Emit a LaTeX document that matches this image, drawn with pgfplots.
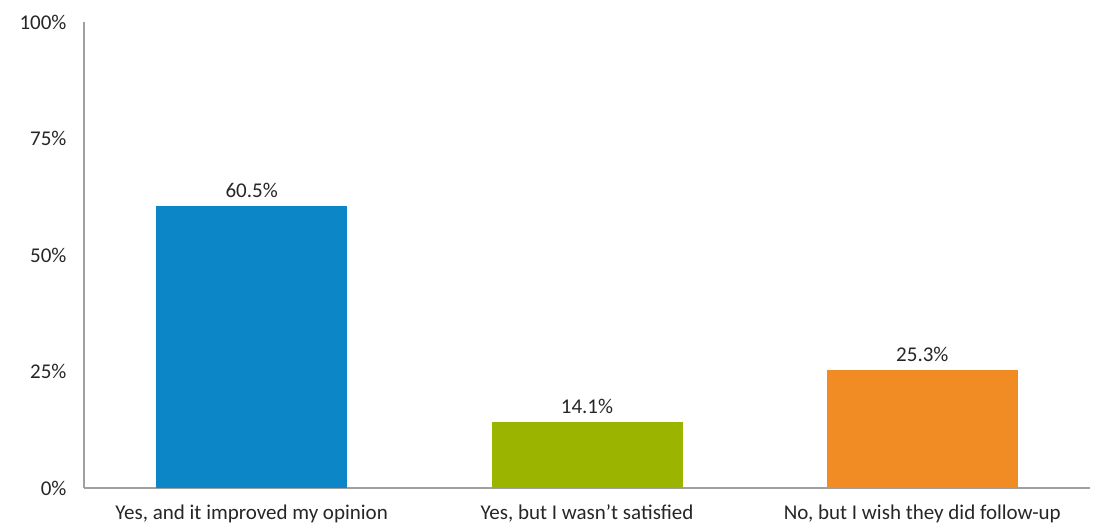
\documentclass[border=0pt]{standalone}
\usepackage{pgfplots}
\pgfplotsset{compat=1.18}
\usepackage{fontspec}
\setmainfont{Carlito}
\definecolor{cblue}{HTML}{0D86C8}
\definecolor{cgreen}{HTML}{9BB400}
\definecolor{corange}{HTML}{F18B24}
\definecolor{axgray}{HTML}{A0A0A0}
\definecolor{txt}{HTML}{262626}
\begin{document}
\begin{tikzpicture}
\begin{axis}[
  scale only axis,
  width=1006pt, height=466pt,
  xmin=-0.5, xmax=2.5,
  ymin=0, ymax=100,
  axis x line*=bottom, axis y line*=left,
  axis line style={axgray, line width=1.1pt},
  xtick={0,1,2},
  xticklabels={{Yes, and it improved my opinion},{Yes, but I wasn’t satisfied},{No, but I wish they did follow-up}},
  ytick={0,25,50,75,100},
  yticklabel={\pgfmathprintnumber{\tick}\%},
  /pgf/number format/assume math mode=true,
  major tick length=0pt,
  tick label style={font=\fontsize{21}{24}\selectfont, text=txt},
  xticklabel style={yshift=-13pt},
  yticklabel style={xshift=-14pt},
  ybar, bar width=191pt, bar shift=0pt,
  nodes near coords={\pgfmathprintnumber[fixed,precision=1,fixed zerofill]{\pgfplotspointmeta}\%},
  nodes near coords style={font=\fontsize{21}{24}\selectfont, text=txt, yshift=5pt},
  clip=false,
]
\addplot[fill=cblue, draw=none] coordinates {(0,60.5)};
\addplot[fill=cgreen, draw=none] coordinates {(1,14.1)};
\addplot[fill=corange, draw=none] coordinates {(2,25.3)};
\end{axis}
\path (current axis.south west) ++(-84pt,-39pt) (current axis.north east) ++(3pt,22pt);
\end{tikzpicture}
\end{document}
